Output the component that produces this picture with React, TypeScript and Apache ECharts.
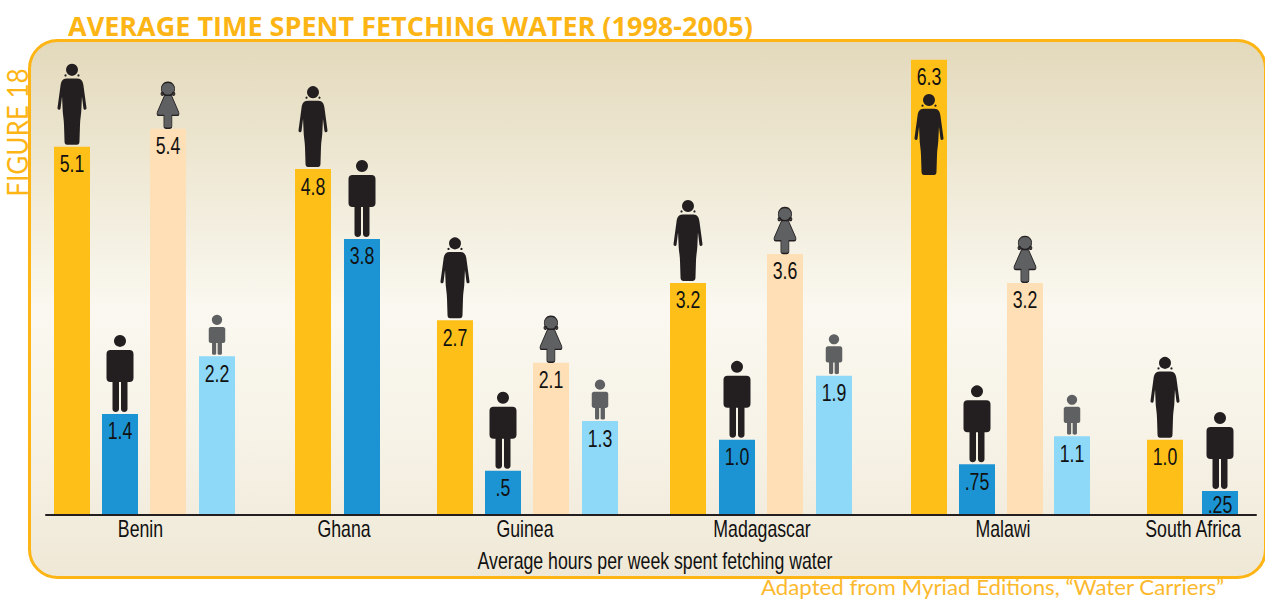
import React, { useEffect, useRef } from "react";
import * as echarts from "echarts";

const countries = ["Benin", "Ghana", "Guinea", "Madagascar", "Malawi", "South Africa"];

// Bar heights; printed labels are kept separately.
const womenValues = [5.1, 4.79, 2.69, 3.21, 6.31, 1.03];
const menValues = [1.39, 3.82, 0.6, 1.03, 0.69, 0.32];
const girlsValues = [5.35, 2.1, 3.61, 3.21];
const boysValues = [2.19, 1.29, 1.92, 1.08];

const womenLabels = ["5.1", "4.8", "2.7", "3.2", "6.3", "1.0"];
const menLabels = ["1.4", "3.8", ".5", "1.0", ".75", ".25"];
const girlsLabels = ["5.4", "2.1", "3.6", "3.2"];
const boysLabels = ["2.2", "1.3", "1.9", "1.1"];

// Places along the hidden horizontal scale.
const womenSlots = [72, 313, 455, 688, 929, 1165];
const menSlots = [120, 362, 503, 737, 977, 1220];
const girlsSlots = [168, 551, 785, 1025];
const boysSlots = [217, 600, 834, 1072];
const countrySlots = [140.5, 344, 525, 762, 1003, 1193];

// The Malawi woman stands inside her bar.
const womenIconValues = [5.1, 4.79, 2.69, 3.21, 4.68, 1.03];

const ORANGE = "#FDB515";
const NARROW_FONT = '23px "Liberation Sans", sans-serif';
const NARROW_SCALE = 0.77;

const dot = (cx: number, cy: number, r: number) =>
  `M${cx},${cy - r} A${r},${r} 0 1 1 ${cx - 0.01},${cy - r} Z `;

const WOMAN =
  "path://" +
  dot(14.5, 6.5, 6) +
  dot(8, 12, 1.1) +
  dot(21, 12, 1.1) +
  "M9,15 L20,15 C24,15 25.5,18 26,22 L29,44 C29.5,46.5 26.5,47 26,45 L24.5,33 L24,44 C24,50 22.5,56 22.5,62 L22,78 C22,80 21,81 19.5,81 L9.5,81 C8,81 7,80 7,78 L6.5,62 C6.5,56 5,50 5,44 L4.5,33 L3,45 C2.5,47 -0.5,46.5 0,44 L3,22 C3.5,18 5,15 9,15 Z";
const MAN =
  "path://" +
  dot(13.5, 6, 6) +
  "M4,15 L23,15 C25.5,15 27,16.5 27,19 L27,43 C27,45.5 25.5,47 23,47 L21,47 L21,74 C21,78 14.5,78 14.5,74 L14.5,47 L12.5,47 L12.5,74 C12.5,78 6,78 6,74 L6,47 L4,47 C1.5,47 0,45.5 0,43 L0,19 C0,16.5 1.5,15 4,15 Z";
const BOY =
  "path://" +
  dot(8, 5, 5) +
  "M2,12 L14,12 C15,12 16,13 16,14 L16,26 C16,27 15,28 14,28 L12.8,28 L12.8,38.5 C12.8,40 8.6,40 8.6,38.5 L8.6,28 L7.2,28 L7.2,38.5 C7.2,40 3.2,40 3.2,38.5 L3.2,28 L2,28 C1,28 0,27 0,26 L0,14 C0,13 1,12 2,12 Z";
const GIRL =
  "path://" +
  dot(10.7, 6.5, 6.5) +
  dot(5.3, 11.5, 1.4) +
  dot(16.1, 11.5, 1.4) +
  "M7.5,13 L14,13 L21.2,30 C21.8,32 21,33 19.5,33 L14.5,33 L14.5,44 C14.5,46.5 6.8,46.5 6.8,44 L6.8,33 L2,33 C0.5,33 -0.3,32 0.3,30 Z";

function barSeries(name: string, slots: number[], values: number[], color: string) {
  return {
    type: "bar",
    name,
    barWidth: 36,
    barGap: "-100%",
    itemStyle: { color },
    data: slots.map((x, i) => [x, values[i]]),
  };
}

function iconSeries(name: string, slots: number[], values: number[], symbol: string, w: number, h: number, color: string, gap: number, border?: string) {
  return {
    type: "scatter",
    name,
    symbol,
    symbolSize: [w, h],
    symbolOffset: [0, -h / 2 - gap],
    itemStyle: { color, opacity: 1, borderColor: border, borderWidth: border ? 1 : 0 },
    z: 5,
    data: slots.map((x, i) => [x, values[i]]),
  };
}

// Narrowed text placed through the chart's scales (real text, squeezed horizontally).
function textSeries(name: string, slots: number[], values: number[], labels: string[], place: (top: number, base: number) => number) {
  return {
    type: "custom",
    name,
    z: 6,
    silent: true,
    clip: false,
    encode: { x: 0, y: 1 },
    data: slots.map((x, i) => [x, values[i]]),
    renderItem: (params: any, api: any) => {
      const p = api.coord([api.value(0), api.value(1)]);
      const base = api.coord([api.value(0), 0]);
      return {
        type: "text",
        x: p[0],
        y: place(p[1], base[1]),
        scaleX: NARROW_SCALE,
        style: {
          text: labels[params.dataIndex],
          font: NARROW_FONT,
          fill: "#111",
          align: "center",
          verticalAlign: "middle",
        },
      };
    },
  };
}

const inBar = (top: number, base: number) => Math.min(top + 17, base - 9);
const belowAxis = (_top: number, base: number) => base + 15;

export default function App() {
  const ref = useRef<HTMLDivElement>(null);
  useEffect(() => {
    const chart = echarts.init(ref.current!, undefined, { renderer: "svg" });
    chart.setOption({
      animation: false,
      backgroundColor: "#fff",
      title: {
        text: "AVERAGE TIME SPENT FETCHING WATER (1998-2005)",
        left: 68,
        top: 12,
        padding: 0,
        textStyle: { color: ORANGE, fontFamily: '"Open Sans", sans-serif', fontWeight: "bold", fontSize: 27 },
      },
      grid: { left: 46, right: 9, top: 46, bottom: 86 },
      xAxis: {
        type: "value",
        min: 46,
        max: 1256,
        offset: 1,
        splitLine: { show: false },
        axisTick: { show: false },
        axisLabel: { show: false },
        axisLine: { show: true, onZero: false, lineStyle: { color: "#231F20", width: 2 } },
      },
      yAxis: { type: "value", min: 0, max: 6.5, show: false },
      graphic: [
        {
          type: "rect",
          z: 0,
          silent: true,
          shape: { x: 29.5, y: 40.5, width: 1236, height: 537, r: 28 },
          style: {
            stroke: ORANGE,
            lineWidth: 3,
            fill: new echarts.graphic.LinearGradient(0, 0, 0, 1, [
              { offset: 0, color: "#E3D9BC" },
              { offset: 0.17, color: "#EBE4CD" },
              { offset: 0.5, color: "#FAF8F0" },
              { offset: 0.75, color: "#F6F2E6" },
              { offset: 1, color: "#EFE8D6" },
            ]),
          },
        },
        {
          type: "text",
          z: 1,
          x: 17.5,
          y: 132.5,
          rotation: Math.PI / 2,
          scaleX: 0.93,
          silent: true,
          style: {
            text: "FIGURE 18",
            fill: ORANGE,
            font: '28px "Lato", sans-serif',
            align: "center",
            verticalAlign: "middle",
          },
        },
        {
          type: "text",
          z: 1,
          x: 761,
          y: 586.8,
          scaleX: 1.012,
          silent: true,
          style: {
            text: "Adapted from Myriad Editions, “Water Carriers”",
            fill: "#FDB92E",
            font: '22px "Lato", sans-serif',
            align: "left",
            verticalAlign: "middle",
          },
        },
        {
          type: "text",
          z: 1,
          x: 655,
          y: 561,
          scaleX: NARROW_SCALE,
          silent: true,
          style: {
            text: "Average hours per week spent fetching water",
            fill: "#111",
            font: NARROW_FONT,
            align: "center",
            verticalAlign: "middle",
          },
        },
      ],
      series: [
        barSeries("Women", womenSlots, womenValues, "#FEC018"),
        barSeries("Men", menSlots, menValues, "#1C94D4"),
        barSeries("Girls", girlsSlots, girlsValues, "#FEDFB6"),
        barSeries("Boys", boysSlots, boysValues, "#8ED8F8"),
        iconSeries("Woman icon", womenSlots, womenIconValues, WOMAN, 29, 81, "#231F20", 2),
        iconSeries("Man icon", menSlots, menValues, MAN, 27, 77, "#231F20", 2),
        iconSeries("Girl icon", girlsSlots, girlsValues, GIRL, 22, 46, "#5F6062", 0.5, "#231F20"),
        iconSeries("Boy icon", boysSlots, boysValues, BOY, 16.5, 40, "#5F6062", 1.5),
        textSeries("Women labels", womenSlots, womenValues, womenLabels, inBar),
        textSeries("Men labels", menSlots, menValues, menLabels, inBar),
        textSeries("Girls labels", girlsSlots, girlsValues, girlsLabels, inBar),
        textSeries("Boys labels", boysSlots, boysValues, boysLabels, inBar),
        textSeries("Countries", countrySlots, countrySlots.map(() => 0), countries, belowAxis),
      ],
    });
    return () => chart.dispose();
  }, []);
  return <div ref={ref} style={{ position: "fixed", left: 0, top: 0, width: 1265, height: 600 }} />;
}
